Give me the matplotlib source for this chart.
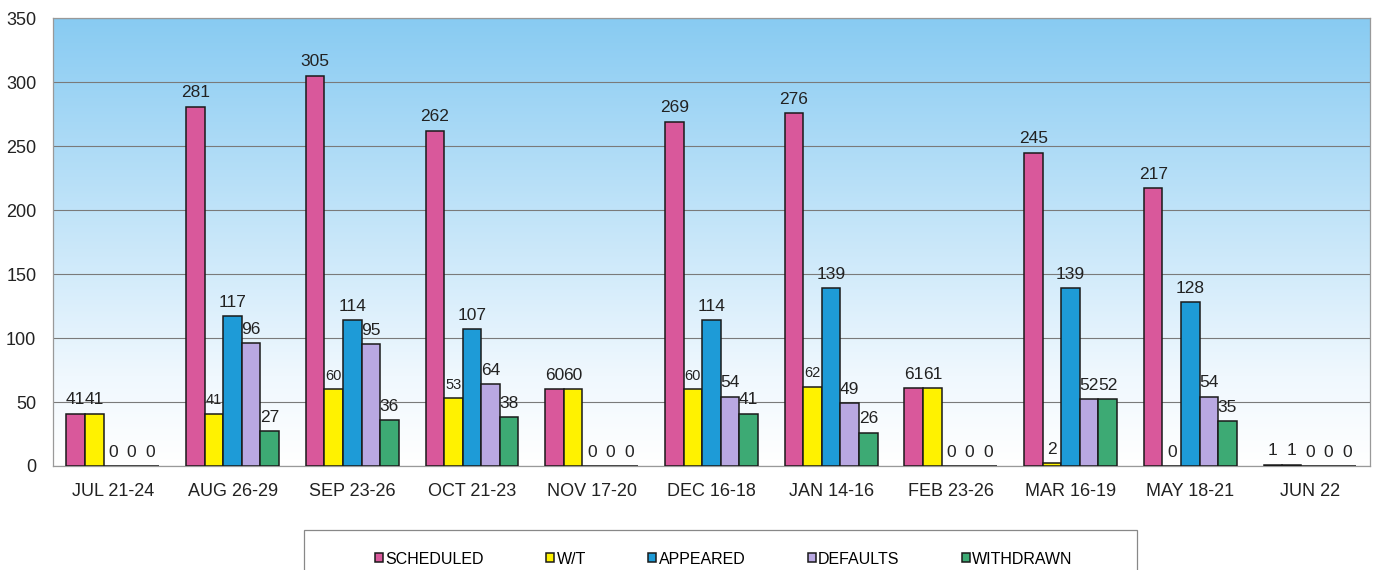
import numpy as np
import matplotlib
matplotlib.use('Agg')
import matplotlib.pyplot as plt
from matplotlib.colors import LinearSegmentedColormap
from matplotlib.patches import Rectangle

plt.rcParams['font.family'] = ['Liberation Sans', 'DejaVu Sans']

categories = ['JUL 21-24', 'AUG 26-29', 'SEP 23-26', 'OCT 21-23', 'NOV 17-20',
              'DEC 16-18', 'JAN 14-16', 'FEB 23-26', 'MAR 16-19', 'MAY 18-21', 'JUN 22']
scheduled = [41, 281, 305, 262, 60, 269, 276, 61, 245, 217, 1]
wt = [41, 41, 60, 53, 60, 60, 62, 61, 2, 0, 1]
appeared = [0, 117, 114, 107, 0, 114, 139, 0, 139, 128, 0]
defaults = [0, 96, 95, 64, 0, 54, 49, 0, 52, 54, 0]
withdrawn = [0, 27, 36, 38, 0, 41, 26, 0, 52, 35, 0]

series = [('SCHEDULED', scheduled, '#D9589B'),
          ('W/T', wt, '#FFF200'),
          ('APPEARED', appeared, '#1E9BD7'),
          ('DEFAULTS', defaults, '#B9A8E2'),
          ('WITHDRAWN', withdrawn, '#3DAA74')]

fig = plt.figure(figsize=(13.95, 5.7), dpi=100)
ax = fig.add_axes([0.038, 0.1825, 0.944, 0.7855])

# gradient background
cmap = LinearSegmentedColormap.from_list('bg', [(0, '#FFFFFF'), (0.2, '#F0F8FE'), (1, '#88CBF2')])
grad = np.linspace(0, 1, 256).reshape(-1, 1)
ax.imshow(grad, aspect='auto', cmap=cmap, origin='lower',
          extent=[-0.5, len(categories) - 0.5, 0, 350], zorder=0)

x = np.arange(len(categories))
w = 0.155
for i, (name, vals, col) in enumerate(series):
    pos = x + (i - 2) * w
    ax.bar(pos, vals, width=w, color=col, edgecolor='#1A1A1A', linewidth=1.1,
           label=name, zorder=3)
    for j, (px, v) in enumerate(zip(pos, vals)):
        # small W/T labels squeezed next to tall scheduled bars
        small = name == 'W/T' and v > 40 and scheduled[j] > 200
        ax.text(px, v + 5, str(v), ha='center', va='bottom',
                fontsize=10.5 if small else 12.5, color='#222222', zorder=4)

ax.set_xlim(-0.5, len(categories) - 0.5)
ax.set_ylim(0, 350)
ax.set_yticks(range(0, 351, 50))
ax.set_xticks(x)
ax.set_xticklabels(categories)
ax.tick_params(axis='both', labelsize=13, colors='#222222', length=0)
ax.tick_params(axis='y', pad=12)
ax.tick_params(axis='x', pad=12)
ax.yaxis.grid(True, color='#7A7A7A', linewidth=0.8, zorder=1)
ax.set_axisbelow(True)
for s in ['top', 'right', 'left', 'bottom']:
    ax.spines[s].set_color('#999999')
    ax.spines[s].set_linewidth(0.9)

# legend box (cut off by figure bottom, as in the source)
fig.patches.append(Rectangle((304 / 1395, -0.02), (1137 - 304) / 1395, 0.02 + (570 - 530) / 570,
                             transform=fig.transFigure, facecolor='white',
                             edgecolor='#888888', linewidth=0.9))
leg = fig.legend(loc='center', bbox_to_anchor=(0.519, 1 - 559 / 570), ncol=5,
                 fontsize=11.5, frameon=False,
                 handlelength=0.5, handleheight=0.5, handletextpad=0.15,
                 columnspacing=3.9)

fig.savefig('out.png', dpi=100)
